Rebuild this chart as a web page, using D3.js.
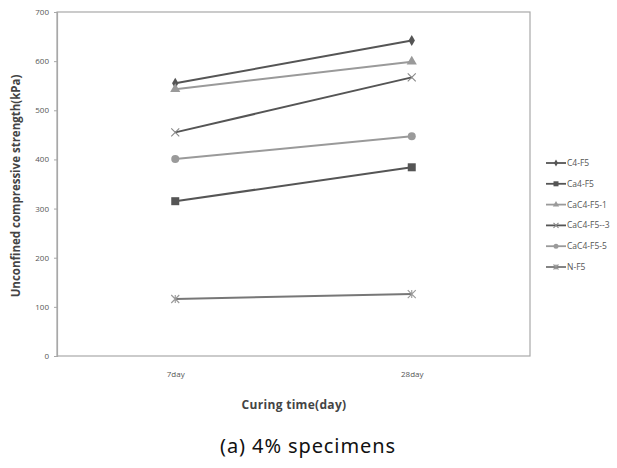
<!DOCTYPE html>
<html>
<head>
<meta charset="utf-8">
<script src="https://cdn.jsdelivr.net/npm/d3@7"></script>
<style>
  html, body { margin: 0; padding: 0; background: #fff; }
  svg { display: block; font-family: "Open Sans", "Noto Sans", sans-serif; }
</style>
</head>
<body>
<svg id="chart" width="617" height="468"></svg>
<script>
// Curing time categories
const categories = ["7day", "28day"];

// Unconfined compressive strength (kPa) per mix
const seriesNames = ["C4-F5", "Ca4-F5", "CaC4-F5-1", "CaC4-F5--3", "CaC4-F5-5", "N-F5"];
const valuesC4F5 = [555, 642];
const valuesCa4F5 = [315, 384];
const valuesCaC4F51 = [543, 599];
const valuesCaC4F53 = [455, 567];
const valuesCaC4F55 = [401, 447];
const valuesNF5 = [116, 126];

const yTicks = [0, 100, 200, 300, 400, 500, 600, 700];

const series = [
  { name: seriesNames[0], values: valuesC4F5, line: "#555", mark: "#555", shape: "diamond" },
  { name: seriesNames[1], values: valuesCa4F5, line: "#555", mark: "#555", shape: "square" },
  { name: seriesNames[2], values: valuesCaC4F51, line: "#9a9a9a", mark: "#9a9a9a", shape: "triangle" },
  { name: seriesNames[3], values: valuesCaC4F53, line: "#555", mark: "#888", shape: "x" },
  { name: seriesNames[4], values: valuesCaC4F55, line: "#9a9a9a", mark: "#9a9a9a", shape: "circle" },
  { name: seriesNames[5], values: valuesNF5, line: "#777", mark: "#999", shape: "star" }
];

const svg = d3.select("#chart");
const plot = { left: 57, top: 12, right: 530, bottom: 356 };

const x = d3.scalePoint().domain(categories).range([plot.left, plot.right]).padding(0.5);
const y = d3.scaleLinear().domain([0, 700]).range([plot.bottom, plot.top]);

// plot frame
svg.append("rect")
  .attr("x", plot.left).attr("y", plot.top)
  .attr("width", plot.right - plot.left).attr("height", plot.bottom - plot.top)
  .attr("fill", "none").attr("stroke", "#a8a8a8").attr("stroke-width", 1.2);

// y axis
const yAxis = svg.append("g")
  .attr("transform", `translate(${plot.left},0)`)
  .call(d3.axisLeft(y).tickValues(yTicks).tickSize(3).tickPadding(5));
yAxis.select(".domain").attr("stroke", "#a8a8a8").attr("stroke-width", 1.2);
yAxis.selectAll(".tick line").attr("stroke", "#a8a8a8");
yAxis.selectAll("text").attr("fill", "#555").style("font-size", "8px").style("font-family", "'Open Sans', sans-serif");

// x axis
const xAxis = svg.append("g")
  .attr("transform", `translate(0,${plot.bottom})`)
  .call(d3.axisBottom(x).tickSize(0).tickPadding(15));
xAxis.select(".domain").remove();
xAxis.selectAll("text").attr("fill", "#555").style("font-size", "8px").style("font-family", "'Open Sans', sans-serif");

// axis titles
svg.append("text")
  .attr("transform", `translate(20,${(plot.top + plot.bottom) / 2 + 2}) rotate(-90)`)
  .attr("text-anchor", "middle")
  .attr("fill", "#444").style("font-size", "11.5px").style("font-weight", "bold")
  .text("Unconfined compressive strength(kPa)");

svg.append("text")
  .attr("x", 294).attr("y", 409)
  .attr("text-anchor", "middle")
  .attr("fill", "#444").style("font-size", "12px").style("font-weight", "bold")
  .style("letter-spacing", "0.3px")
  .text("Curing  time(day)");

svg.append("text")
  .attr("x", 308).attr("y", 453)
  .attr("text-anchor", "middle")
  .attr("fill", "#111").style("font-size", "20px")
  .style("letter-spacing", "0.9px")
  .style("font-family", "'Noto Sans', 'Open Sans', sans-serif")
  .text("(a) 4% specimens");

// marker drawing
function drawMarker(g, shape, color, size) {
  const s = size;
  if (shape === "diamond") {
    g.append("path").attr("d", d3.symbol(d3.symbolDiamond, s * s * 0.55)()).attr("fill", color);
  } else if (shape === "square") {
    g.append("rect").attr("x", -s / 2).attr("y", -s / 2).attr("width", s).attr("height", s).attr("fill", color);
  } else if (shape === "triangle") {
    g.append("path").attr("d", d3.symbol(d3.symbolTriangle, s * s * 0.7)()).attr("fill", color);
  } else if (shape === "circle") {
    g.append("circle").attr("r", s / 2).attr("fill", color);
  } else if (shape === "x") {
    const h = s / 2;
    g.append("path").attr("d", `M${-h},${-h}L${h},${h}M${-h},${h}L${h},${-h}`)
      .attr("stroke", color).attr("stroke-width", 1.1).attr("fill", "none");
  } else if (shape === "star") {
    const h = s / 2;
    g.append("path").attr("d", `M${-h},${-h}L${h},${h}M${-h},${h}L${h},${-h}M0,${-h}L0,${h}`)
      .attr("stroke", color).attr("stroke-width", 1.1).attr("fill", "none");
  }
}

// series lines and markers
const line = d3.line().x((d, i) => x(categories[i])).y(d => y(d));
series.forEach(s => {
  svg.append("path")
    .datum(s.values)
    .attr("d", line)
    .attr("fill", "none")
    .attr("stroke", s.line)
    .attr("stroke-width", 2);
  s.values.forEach((v, i) => {
    const g = svg.append("g").attr("transform", `translate(${x(categories[i])},${y(v)})`);
    drawMarker(g, s.shape, s.mark, 8);
  });
});

// legend
const legendY = d3.scalePoint().domain(seriesNames).range([163, 267]);
series.forEach(s => {
  const ly = legendY(s.name);
  const g = svg.append("g").attr("transform", `translate(546,${ly})`);
  g.append("line").attr("x1", 0).attr("x2", 20).attr("y1", 0).attr("y2", 0)
    .attr("stroke", s.line).attr("stroke-width", 1.8);
  const m = g.append("g").attr("transform", "translate(10,0)");
  drawMarker(m, s.shape, s.mark, 5);
  g.append("text").attr("x", 21).attr("y", 3)
    .attr("fill", "#555").style("font-size", "8.5px")
    .text(s.name);
});
</script>
</body>
</html>
